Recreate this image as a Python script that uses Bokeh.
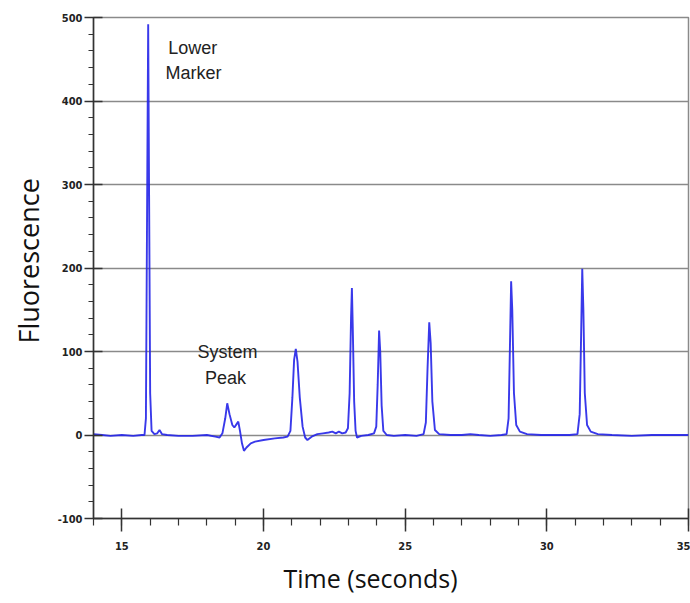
from bokeh.plotting import figure
from bokeh.models import Range1d, FixedTicker, Label, Title
from bokeh.embed import file_html
from bokeh.resources import INLINE

# ---- data ----
time_s = [
    14.0, 14.3, 14.6, 15.0, 15.4, 15.7,
    15.80, 15.85, 15.90, 15.93, 15.96, 16.00, 16.05, 16.15, 16.25, 16.33, 16.42, 16.6, 17.0, 17.5, 18.0, 18.3,
    18.45, 18.55, 18.65, 18.72, 18.80, 18.90, 18.97, 19.05, 19.11, 19.17, 19.24, 19.31, 19.40, 19.55, 19.70, 20.0, 20.4, 20.7, 20.85,
    20.95, 21.02, 21.08, 21.14, 21.20, 21.28, 21.38, 21.47, 21.55, 21.7, 21.9, 22.1, 22.3, 22.43, 22.55, 22.66, 22.78, 22.90, 22.98,
    23.04, 23.09, 23.12, 23.15, 23.20, 23.25, 23.30, 23.45, 23.7, 23.9, 23.98, 24.03, 24.08, 24.12, 24.17, 24.23, 24.35, 24.6, 25.0, 25.4, 25.65,
    25.73, 25.79, 25.85, 25.90, 25.96, 26.05, 26.2, 26.6, 27.0, 27.3, 27.6, 28.0, 28.4, 28.58,
    28.65, 28.70, 28.74, 28.78, 28.84, 28.92, 29.05, 29.3, 29.8, 30.3, 30.8, 31.08,
    31.16, 31.21, 31.25, 31.29, 31.34, 31.42, 31.55, 31.8, 32.3, 33.0, 33.7, 34.3, 35.0,
]
fluorescence = [
    1, 0, -1, 0, -1, 0,
    0, 20, 320, 492, 300, 50, 5, 1, 2, 6, 1, 0, -1, -1, 0, -2,
    -3, 2, 20, 38, 25, 12, 9, 13, 16, 5, -10, -19, -15, -10, -8, -6, -4, -3, -2,
    5, 45, 90, 103, 88, 45, 10, -3, -6, -2, 1, 2, 3, 4, 2, 4, 2, 3, 8,
    50, 140, 176, 130, 40, 5, -3, -1, 0, 2, 10, 60, 125, 100, 35, 5, 0, -1, 0, -1, 1,
    15, 80, 135, 110, 40, 6, 1, 0, 0, 1, 0, -1, 0, 1,
    20, 110, 184, 150, 50, 12, 4, 1, 0, 0, 0, 1,
    25, 120, 199, 150, 50, 12, 4, 1, 0, -1, 0, 0, 0,
]
assert len(time_s) == len(fluorescence)

x_ticks = [15, 20, 25, 30, 35]
y_ticks = [-100, 0, 100, 200, 300, 400, 500]
y_tick_labels = {-100: "-100"}
annotations = [("Lower", 17.50, 463), ("Marker", 17.53, 433),
               ("System", 18.73, 99), ("Peak", 18.66, 68)]

p = figure(width=690, height=603, output_backend="svg", toolbar_location=None,
           x_range=Range1d(14, 35), y_range=Range1d(-100, 500),
           min_border_left=93, min_border_right=2, min_border_top=17, min_border_bottom=85)

p.background_fill_color = "white"
p.border_fill_color = "white"
p.outline_line_color = "#8a8a8a"
p.outline_line_width = 1.5

p.line(time_s, fluorescence, line_color="#2323e8", line_width=1.9, line_alpha=0.9)

# axes
for ax in (p.xaxis[0], p.yaxis[0]):
    ax.axis_line_color = "#333333"
    ax.axis_line_width = 1.5
    ax.major_tick_line_color = "#333333"
    ax.major_tick_line_width = 1.5
    ax.minor_tick_line_color = "#333333"
    ax.minor_tick_line_width = 1.2
    ax.major_label_text_font = "Liberation Sans Narrow, DejaVu Sans Condensed, sans-serif"
    ax.major_label_text_font_style = "bold"
    ax.major_label_text_font_size = "11px"
    ax.major_label_text_color = "#222222"

p.xaxis.ticker = FixedTicker(ticks=x_ticks, minor_ticks=list(range(14, 36)))
p.yaxis.ticker = FixedTicker(ticks=y_ticks, minor_ticks=list(range(-100, 501, 20)))
p.yaxis.major_label_overrides = y_tick_labels
p.xaxis.major_tick_in = 10
p.xaxis.major_tick_out = 13
p.xaxis.minor_tick_in = 0
p.xaxis.minor_tick_out = 7
p.xaxis.major_label_standoff = 10
p.yaxis.major_tick_in = 9
p.yaxis.major_tick_out = 9
p.yaxis.minor_tick_in = 0
p.yaxis.minor_tick_out = 5
p.yaxis.major_label_standoff = 2

p.xgrid.grid_line_color = None
p.ygrid.grid_line_color = "#8a8a8a"
p.ygrid.grid_line_width = 1.3

# axis titles
p.add_layout(Title(text="Time (seconds)", align="left", offset=190, standoff=12,
                   text_font="Open Sans", text_font_size="25px",
                   text_font_style="normal", text_color="#111111"), "below")
p.add_layout(Title(text="Fluorescence", align="left", offset=175, standoff=12,
                   vertical_align="top",
                   text_font="Open Sans", text_font_size="27px",
                   text_font_style="normal", text_color="#111111"), "left")

for txt, xx, yy in annotations:
    p.add_layout(Label(x=xx, y=yy, text=txt, text_align="center", text_baseline="middle",
                       text_font="Liberation Sans", text_font_size="18px",
                       text_color="#222222"))

open("out.html", "w").write(file_html(p, INLINE))
